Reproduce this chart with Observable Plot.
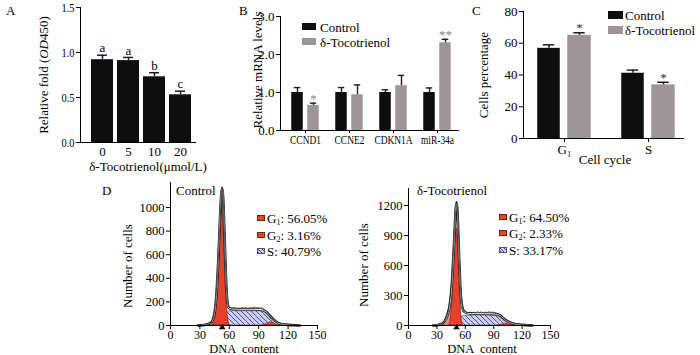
<!DOCTYPE html>
<html><head><meta charset="utf-8">
<script src="https://cdn.jsdelivr.net/npm/d3@7"></script>
<script src="https://cdn.jsdelivr.net/npm/@observablehq/plot@0.6"></script>
<style>
body{margin:0;background:#fff;}
#fig{position:relative;width:700px;height:355px;overflow:hidden;font-family:"Liberation Serif","Times New Roman",serif;color:#000;background:#fff;}
.t{position:absolute;white-space:pre;line-height:1;font-size:13px;}
.rot{transform:translate(-50%,-50%) rotate(-90deg);}
.ctr{transform:translate(-50%,-50%);}
.vc{transform:translateY(-50%);}
.sw{position:absolute;box-sizing:border-box;}
sub{font-size:8px;vertical-align:-2px;line-height:0;}
</style></head><body>
<svg width="0" height="0" style="position:absolute">
<defs>
<pattern id="hatch" patternUnits="userSpaceOnUse" width="5" height="5">
<rect width="5" height="5" fill="#cfcff2"/>
<path d="M-1,-1L6,6M-1,4L1,6M4,-1L6,1" stroke="#3b3bc4" stroke-width="0.9"/>
</pattern>
</defs></svg>
<div id="fig"></div>
<script>
// ---------- Panel A data ----------
const doseLabels = ["0", "5", "10", "20"];
const doseMeans = [0.92, 0.91, 0.73, 0.53];
const doseErr = [0.05, 0.035, 0.045, 0.04];
const doseLetters = ["a", "a", "b", "c"];

// ---------- Panel B data ----------
const genes = ["CCND1", "CCNE2", "CDKN1A", "miR-34a"];
const ctrlMrna = [1.0, 1.0, 1.0, 1.0];
const ctrlMrnaErr = [0.13, 0.13, 0.07, 0.12];
const tocoMrna = [0.66, 0.94, 1.18, 2.31];
const tocoMrnaErr = [0.06, 0.26, 0.27, 0.09];
const tocoMrnaSig = ["*", "", "", "**"];

// ---------- Panel C data ----------
const phases = ["G\u2081", "S"];
const ctrlPct = [56.8, 41.1];
const ctrlPctErr = [2.2, 2.0];
const tocoPct = [65.0, 33.8];
const tocoPctErr = [1.6, 1.6];
const tocoPctSig = ["*", "*"];

// ---------- Panel D data (DNA content, number of cells) ----------
const ctrlFit = [[28,0],[32,2],[36,6],[40,18],[43,45],[45,110],[47,280],[49,600],[50.5,900],[51.7,1100],[52.7,1165],[53.7,1090],[54.8,850],[55.8,600],[57,330],[58.2,190],[59.5,150],[62,141],[70,138],[80,138],[90,136],[95,129],[98,113],[101,88],[104,62],[107,38],[110,20],[114,10],[120,5],[126,2],[132,0]];
const ctrlData = [[30,0],[34,4],[38,10],[41,25],[44,70],[46,190],[48,430],[50,780],[51.5,1060],[52.6,1175],[53.6,1120],[54.6,900],[55.6,640],[56.8,360],[58,205],[59.2,162],[61,152],[63,146],[65,152],[67,143],[69,149],[71,145],[73,153],[75,147],[77,151],[79,144],[81,153],[83,148],[85,156],[87,149],[89,153],[91,147],[93,151],[95,141],[97,128],[99,110],[101,92],[103,70],[105,52],[107,40],[109,28],[111,22],[113,14],[115,12],[117,9],[119,12],[121,8],[123,10],[125,6],[127,7],[129,3],[131,0]];
const ctrlG1 = [[43,0],[45,40],[47,150],[49,420],[50.5,720],[51.7,930],[52.6,1010],[53.5,940],[54.6,720],[55.8,440],[57,220],[58.2,90],[59.5,25],[61,0]];
const ctrlPink = [[39,0],[42,25],[45,70],[47.5,92],[50,80],[52.5,45],[55,15],[57,0]];
const ctrlS = [[47,0],[50,25],[53,65],[56,100],[58.5,118],[61,121],[70,121],[80,121],[90,120],[95,116],[98,100],[101,70],[104,38],[107,12],[109,0]];
const ctrlG2 = [[94,0],[97,10],[100,22],[102.5,26],[105,20],[108,8],[111,0]];
const ctrlMarker = [52.7];

const tocoFit = [[26,0],[30,4],[34,12],[38,40],[41,100],[43.5,200],[45.5,380],[47.5,700],[49,1000],[50,1180],[50.7,1225],[51.5,1170],[52.5,950],[53.6,640],[54.8,380],[56,230],[57.5,160],[59.5,135],[63,122],[70,118],[80,118],[90,116],[94,112],[97,98],[100,75],[103,52],[106,35],[109,24],[112,16],[116,10],[120,7],[124,4],[128,1],[131,0]];
const tocoData = [[28,0],[32,6],[36,22],[39,60],[42,140],[44,270],[46,480],[48,830],[49.5,1100],[50.6,1245],[51.6,1190],[52.6,960],[53.6,660],[54.7,400],[56,240],[57.5,170],[59,145],[61,132],[63,128],[65,134],[67,127],[69,133],[71,129],[73,136],[75,130],[77,135],[79,128],[81,134],[83,130],[85,137],[87,131],[89,134],[91,128],[93,124],[95,116],[97,104],[99,88],[101,70],[103,56],[105,44],[107,36],[109,28],[111,22],[113,18],[115,14],[117,12],[119,10],[121,9],[123,7],[125,6],[127,4],[129,2],[131,0]];
const tocoG1 = [[43,0],[44.5,60],[46,220],[47.5,480],[49,780],[50.2,940],[50.8,975],[51.6,900],[52.7,680],[53.8,420],[55,200],[56.2,60],[57.5,0]];
const tocoPink = [[36,0],[38.5,40],[41,110],[43.5,180],[45.5,205],[47.5,185],[49.5,120],[51.5,55],[53.5,15],[55,0]];
const tocoS = [[44,0],[47,20],[50,45],[53,70],[56,88],[60,97],[65,100],[75,100],[85,99],[92,96],[96,85],[99,65],[102,38],[105,14],[107,0]];
const tocoG2 = [[95,0],[98,7],[101,14],[103.5,16],[106,12],[109,5],[112,0]];
const tocoMarker = [50.7];

const BLACK = "#0e0e0e", GRAY = "#9e9696", WHISK = "#1e1e1e";
const RED = "#e6412b", REDS = "#7c1c10", PINK = "#f08c8a";
const HATCH_CSS = "repeating-linear-gradient(45deg, #3b3bc4 0 0.8px, #cfcff2 0.8px 2.6px)";
const fig = document.getElementById("fig");
const style = {fontFamily: "'Liberation Serif','Times New Roman',serif", fontSize: "13px", color: "#000", background: "transparent", overflow: "visible"};

function place(el, left, top) {
  el.style.position = "absolute"; el.style.left = left + "px"; el.style.top = top + "px";
  fig.appendChild(el);
  return el;
}
// narrow the tick labels horizontally, as in the reference
function condense(svg, axis, f) {
  svg.querySelectorAll(`g[aria-label="${axis}-axis tick label"] text`).forEach(t => {
    const L = t.getComputedTextLength();
    t.setAttribute("textLength", (L * f).toFixed(2));
    t.setAttribute("lengthAdjust", "spacingAndGlyphs");
  });
}
function label(html, x, y, cls, size) {
  const d = document.createElement("div");
  d.className = "t " + (cls || "");
  d.innerHTML = html;
  d.style.left = x + "px"; d.style.top = y + "px";
  if (size) d.style.fontSize = size + "px";
  fig.appendChild(d);
}
function swatch(x, y, w, h, bg, border) {
  const d = document.createElement("div");
  d.className = "sw";
  d.style.left = x + "px"; d.style.top = y + "px"; d.style.width = w + "px"; d.style.height = h + "px";
  d.style.background = bg; d.style.border = border || "none";
  fig.appendChild(d);
}

// ---------- Panel A ----------
const dataA = doseLabels.map((d, i) => ({dose: d, mean: doseMeans[i], top: doseMeans[i] + doseErr[i], sig: doseLetters[i]}));
const svgA = place(Plot.plot({
  width: 230, height: 175, marginLeft: 80, marginRight: 35, marginTop: 7, marginBottom: 33, style,
  x: {domain: doseLabels, range: [80, 202], paddingInner: 0.17, paddingOuter: 0.38},
  y: {domain: [0, 1.5]},
  marks: [
    Plot.barY(dataA, {x: "dose", y: "mean", fill: BLACK}),
    Plot.ruleX(dataA, {x: "dose", y1: "mean", y2: "top", stroke: WHISK, strokeWidth: 1.5}),
    Plot.tickY(dataA, {x: "dose", y: "top", stroke: WHISK, strokeWidth: 1.5, insetLeft: 6, insetRight: 6}),
    Plot.text(dataA, {x: "dose", y: "top", text: "sig", dy: -7, fontSize: 13}),
    Plot.frame({anchor: "left"}),
    Plot.frame({anchor: "bottom"}),
    Plot.axisY({ticks: [0, 0.5, 1, 1.5], tickFormat: d3.format(".1f"), tickSize: 4, tickPadding: 2, label: null}),
    Plot.axisX({tickSize: 0, tickPadding: 4, label: null})
  ]
}), 0, 0);
condense(svgA, "y", 0.8);

// ---------- Panel B ----------
const dataB = genes.map((g, i) => ({gene: g, c: ctrlMrna[i], ct: ctrlMrna[i] + ctrlMrnaErr[i], t: tocoMrna[i], tt: tocoMrna[i] + tocoMrnaErr[i], sig: tocoMrnaSig[i]}));
const svgB = place(Plot.plot({
  width: 240, height: 175, marginLeft: 50, marginRight: 12, marginTop: 16, marginBottom: 45, style,
  x: {domain: genes, range: [50, 231.5], paddingInner: 0, paddingOuter: 0.039},
  y: {domain: [0, 3]},
  marks: [
    Plot.barY(dataB, {x: "gene", y: "c", fill: BLACK, insetLeft: 8.25, insetRight: 24.25}),
    Plot.barY(dataB, {x: "gene", y: "t", fill: GRAY, insetLeft: 24.25, insetRight: 8.25}),
    Plot.ruleX(dataB, {x: "gene", y1: "c", y2: "ct", dx: -8, stroke: WHISK, strokeWidth: 1.4}),
    Plot.tickY(dataB, {x: "gene", y: "ct", stroke: WHISK, strokeWidth: 1.4, insetLeft: 10.75, insetRight: 26.75}),
    Plot.ruleX(dataB, {x: "gene", y1: "t", y2: "tt", dx: 8, stroke: WHISK, strokeWidth: 1.4}),
    Plot.tickY(dataB, {x: "gene", y: "tt", stroke: WHISK, strokeWidth: 1.4, insetLeft: 26.75, insetRight: 10.75}),
    Plot.text(dataB, {x: "gene", y: "tt", text: "sig", dx: 8, dy: -4.5, fill: "#8a8282", fontSize: 13}),
    Plot.frame({anchor: "left"}),
    Plot.frame({anchor: "bottom"}),
    Plot.axisY({ticks: [0, 1, 2, 3], tickSize: 4, tickPadding: 2, label: null}),
    Plot.axisX({tickSize: 3, tickPadding: 2, label: null, fontSize: 11.5})
  ]
}), 230, 0);
condense(svgB, "x", 0.82);

// ---------- Panel C ----------
const dataC = phases.map((p, i) => ({phase: p, c: ctrlPct[i], ct: ctrlPct[i] + ctrlPctErr[i], t: tocoPct[i], tt: tocoPct[i] + tocoPctErr[i], sig: tocoPctSig[i]}));
place(Plot.plot({
  width: 230, height: 175, marginLeft: 53, marginRight: 17, marginTop: 11, marginBottom: 37, style,
  x: {domain: phases, range: [51.75, 220.75], paddingInner: 0, paddingOuter: 0},
  y: {domain: [0, 80]},
  marks: [
    Plot.barY(dataC, {x: "phase", y: "c", fill: BLACK, insetLeft: 15.25, insetRight: 46.25}),
    Plot.barY(dataC, {x: "phase", y: "t", fill: GRAY, insetLeft: 45.25, insetRight: 15.25}),
    Plot.ruleX(dataC, {x: "phase", y1: "c", y2: "ct", dx: -15.5, stroke: WHISK, strokeWidth: 1.5}),
    Plot.tickY(dataC, {x: "phase", y: "ct", stroke: WHISK, strokeWidth: 1.5, insetLeft: 20.75, insetRight: 51.75}),
    Plot.ruleX(dataC, {x: "phase", y1: "t", y2: "tt", dx: 15, stroke: WHISK, strokeWidth: 1.5}),
    Plot.tickY(dataC, {x: "phase", y: "tt", stroke: WHISK, strokeWidth: 1.5, insetLeft: 51.25, insetRight: 21.25}),
    Plot.text(dataC, {x: "phase", y: "tt", text: "sig", dx: 15, dy: -4.5, fill: "#333", fontSize: 13}),
    Plot.frame({anchor: "left"}),
    Plot.frame({anchor: "bottom"}),
    Plot.axisY({ticks: [0, 20, 40, 60, 80], tickSize: 4, tickPadding: 2, label: null}),
    Plot.axisX({tickSize: 4, tickPadding: 2, label: null})
  ]
}), 470, 0);

// ---------- Panel D ----------
const X = d => d[0], Y = d => d[1];
function histo(fit, data, g1, pink, s, g2, marker, yTop, yTicks, mL, mR, mT) {
  return Plot.plot({
    width: 250, height: 180, marginLeft: mL, marginRight: mR, marginTop: mT, marginBottom: 30, style,
    x: {domain: [0, 150]},
    y: {domain: [0, yTop]},
    marks: [
      Plot.areaY(s, {x: X, y: Y, curve: "monotone-x", fill: "url(#hatch)", stroke: "#444", strokeWidth: 0.6}),
      Plot.areaY(pink, {x: X, y: Y, curve: "monotone-x", fill: PINK, stroke: REDS, strokeWidth: 0.6}),
      Plot.areaY(g1, {x: X, y: Y, curve: "monotone-x", fill: RED, stroke: REDS, strokeWidth: 0.7}),
      Plot.areaY(g2, {x: X, y: Y, curve: "monotone-x", fill: RED, stroke: REDS, strokeWidth: 0.6}),
      Plot.line(fit, {x: X, y: Y, curve: "monotone-x", stroke: "#222", strokeWidth: 2.6}),
      Plot.line(fit, {x: X, y: Y, curve: "monotone-x", stroke: "#fff", strokeWidth: 1.0}),
      Plot.line(data, {x: X, y: Y, curve: "linear", stroke: "#111", strokeWidth: 0.7}),
      Plot.frame({anchor: "left"}),
      Plot.frame({anchor: "bottom"}),
      Plot.dot(marker, {x: d => d, y: () => 0, symbol: "triangle", r: 2.4, fill: "#000", dy: 2}),
      Plot.axisY({ticks: yTicks, tickFormat: d3.format("d"), tickSize: 4, tickPadding: 2, label: null, fontSize: 12.5}),
      Plot.axisX({ticks: [0, 30, 60, 90, 120, 150], tickFormat: d3.format("d"), tickSize: 4, tickPadding: 1, label: null, fontSize: 12})
    ]
  });
}
place(histo(ctrlFit, ctrlData, ctrlG1, ctrlPink, ctrlS, ctrlG2, ctrlMarker, 1212, [0, 200, 400, 600, 800, 1000], 80, 23, 7), 90, 175);
place(histo(tocoFit, tocoData, tocoG1, tocoPink, tocoS, tocoG2, tocoMarker, 1370, [0, 300, 600, 900, 1200], 68, 40, 13), 340, 175);

// ---------- Text labels ----------
label("A", 6, 4); label("B", 239, 4); label("C", 472, 4); label("D", 102, 184);
label("Relative fold (<i>OD</i>450)", 43, 75, "rot");
label("\u03b4-Tocotrienol(\u03bcmol/L)", 148, 166, "ctr");
label("Relative mRNA levels", 257, 70, "rot");
label("Cells percentage", 483, 75, "rot");
label("Cell cycle", 605, 159, "ctr");
label("Number of cells", 127, 266, "rot");
label("Number of cells", 363, 265, "rot");
label("DNA  content", 244, 348.6, "ctr", 12.5);
label("DNA  content", 482, 348.6, "ctr", 12.5);
label("Control", 176, 190, "vc");
label("\u03b4-Tocotrienol", 417, 190, "vc");

// legends B and C
swatch(302, 23, 14, 7, BLACK); label("Control", 320, 26.5, "vc");
swatch(302, 38, 14, 7, GRAY); label("\u03b4-Tocotrienol", 320, 42, "vc");
swatch(608, 11, 15, 8, BLACK); label("Control", 625, 15, "vc");
swatch(608, 26, 15, 8, GRAY); label("\u03b4-Tocotrienol", 625, 30, "vc");

// legends D
function dLegend(x, ys, texts) {
  swatch(x, ys[0] - 3, 8, 6, RED, "1px solid " + REDS); label(texts[0], x + 10, ys[0], "vc");
  swatch(x, ys[1] - 3, 8, 6, RED, "1px solid " + REDS); label(texts[1], x + 10, ys[1], "vc");
  swatch(x, ys[2] - 3, 8, 6, HATCH_CSS, "1px solid #555"); label(texts[2], x + 10, ys[2], "vc");
}
dLegend(257, [218, 234.5, 251], ["G<sub>1</sub>: 56.05%", "G<sub>2</sub>: 3.16%", "S: 40.79%"]);
dLegend(499, [217, 233, 250], ["G<sub>1</sub>: 64.50%", "G<sub>2</sub>: 2.33%", "S: 33.17%"]);
</script>
</body></html>
